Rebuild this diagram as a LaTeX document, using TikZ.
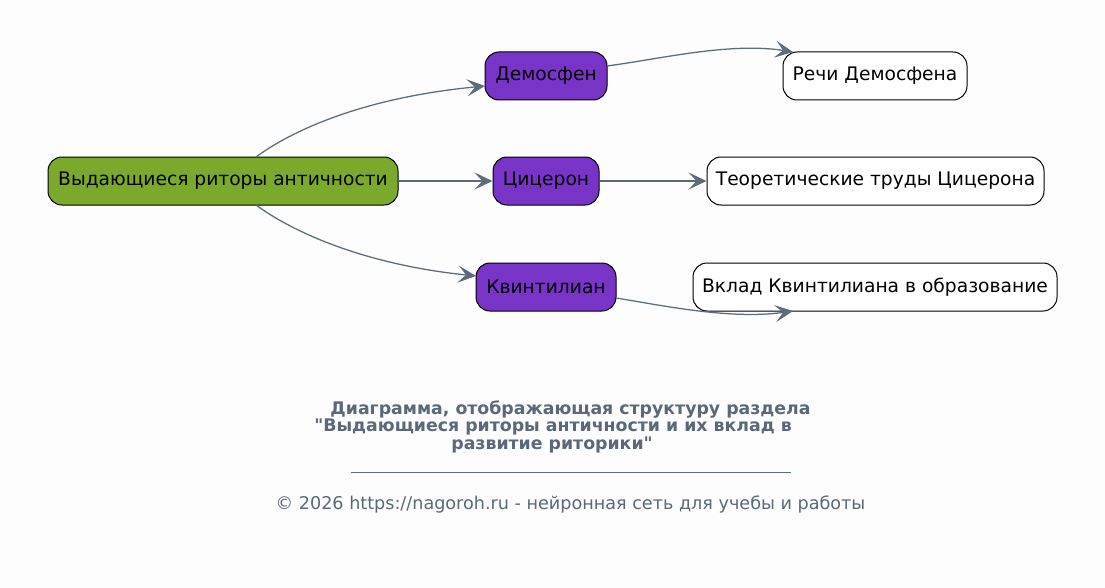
\documentclass[tikz,border=0pt]{standalone}
\usepackage{fontspec}
\setmainfont{DejaVu Sans}
\newfontfamily\plainfont{DejaVu Sans}
\usetikzlibrary{arrows.meta}
\definecolor{bg}{HTML}{FDFDFD}
\definecolor{rootgreen}{HTML}{7AA92B}
\definecolor{purp}{HTML}{7734C7}
\definecolor{edgec}{HTML}{5E6B7B}
\definecolor{titlec}{HTML}{5A6878}
\tikzset{
  box/.style={draw=black, line width=0.75pt, rounded corners=10.5pt, minimum height=36pt, inner sep=0pt, font=\fontsize{14pt}{16pt}\selectfont, text=black},
  rootbox/.style={box, fill=rootgreen},
  personbox/.style={box, fill=purp},
  workbox/.style={box, fill=white},
  conn/.style={draw=edgec, line width=0.95pt, -{Stealth[length=13.5pt, width=12.75pt, inset=6pt]}},
  titletext/.style={text=titlec, font=\plainfont\bfseries\fontsize{13pt}{15pt}\selectfont, inner sep=0pt},
  foottext/.style={text=titlec, font=\plainfont\fontsize{13.2pt}{15pt}\selectfont, inner sep=0pt}
}
\begin{document}
\begin{tikzpicture}[x=0.75pt, y=-0.75pt]
\fill[bg] (0,0) rectangle (1105,588);
\useasboundingbox (0,0) rectangle (1105,588);
\node[rootbox, minimum width=262.5pt] (root) at (223,181) {Выдающиеся риторы античности};
\node[personbox, minimum width=91.5pt] (dem) at (546,76) {Демосфен};
\node[personbox, minimum width=79.5pt] (cic) at (546,181) {Цицерон};
\node[personbox, minimum width=105pt] (kvi) at (546,287) {Квинтилиан};
\node[workbox, minimum width=138pt] (rech) at (875,76) {Речи Демосфена};
\node[workbox, minimum width=252.75pt] (teor) at (875.5,181) {Теоретические труды Цицерона};
\node[workbox, minimum width=273pt] (vkl) at (875,287) {Вклад Квинтилиана в образование};
\coordinate (rtop) at (256,157);
\coordinate (rbot) at (256,205);
\coordinate (demin) at (485,86);
\coordinate (kviin) at (476,276);
\coordinate (demout) at (607,66);
\coordinate (rechin) at (793,52);
\coordinate (kviout) at (616,298);
\coordinate (vklin) at (793,311);
\draw[conn] (rtop) .. controls (290,132) and (360,98) .. (demin);
\draw[conn] (rbot) .. controls (290,230) and (360,264) .. (kviin);
\draw[conn] (root.east) -- (cic.west);
\draw[conn] (cic.east) -- (teor.west);
\draw[conn] (demout) .. controls (660,59) and (730,42) .. (rechin);
\draw[conn] (kviout) .. controls (660,305) and (730,320) .. (vklin);
\node[titletext] (t1) at (570.5,409) {Диаграмма, отображающая структуру раздела};
\node[titletext] (t2) at (553,427) {"Выдающиеся риторы античности и их вклад в};
\node[titletext] (t3) at (552,445) {развитие риторики"};
\draw[draw=edgec, line width=0.75pt] (351,472) -- (791,472);
\node[foottext] (foot) at (570.5,504) {© 2026 https://nagoroh.ru - нейронная сеть для учебы и работы};
\end{tikzpicture}
\end{document}
